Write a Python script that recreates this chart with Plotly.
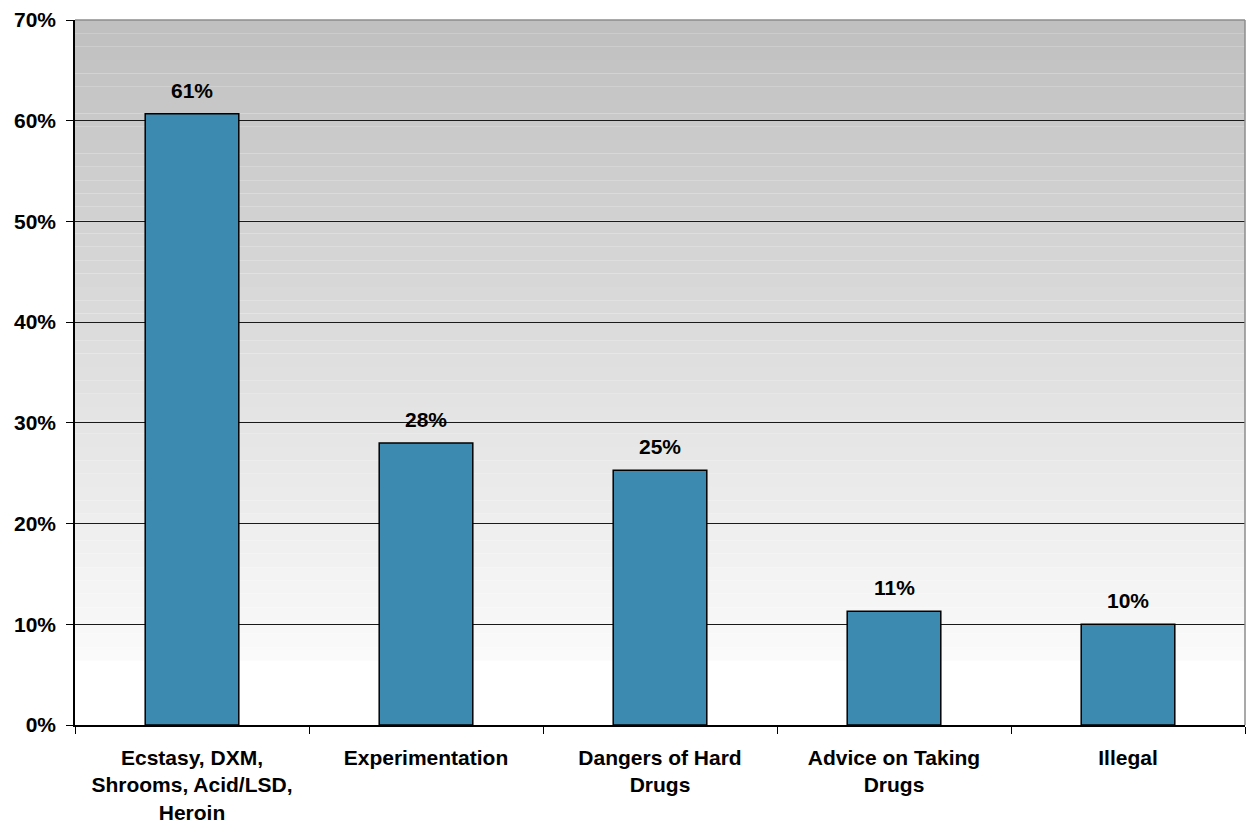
import plotly.graph_objects as go

categories = [
    "Ecstasy, DXM,<br>Shrooms, Acid/LSD,<br>Heroin",
    "Experimentation",
    "Dangers of Hard<br>Drugs",
    "Advice on Taking<br>Drugs",
    "Illegal",
]
values = [60.7, 28.0, 25.3, 11.3, 10.0]
y_ticks = [0, 10, 20, 30, 40, 50, 60, 70]
y_tick_labels = [f"{t}%" for t in y_ticks]

BAR_COLOR = "#3d8ab0"
FONT = "Liberation Sans, Arial, sans-serif"
FSIZE = 21

fig = go.Figure()
fig.add_trace(go.Bar(
    x=categories,
    y=values,
    width=0.4,
    marker=dict(color=BAR_COLOR, line=dict(color="#000000", width=1.5)),
    hoverinfo="x+y",
))

# value labels above each bar
annotations = [
    dict(x=c, y=v, xref="x", yref="y", text=f"<b>{v:.0f}%</b>",
         showarrow=False, yanchor="bottom", yshift=10,
         font=dict(family=FONT, size=FSIZE, color="#000000"))
    for c, v in zip(categories, values)
]

# Vertical gray-to-white gradient behind the bars, drawn as thin bands
y_top, y_fade = 70.0, 6.4
n_bands = 48
shapes = []
step = (y_top - y_fade) / n_bands
for i in range(n_bands):
    y1 = y_top - i * step
    y0 = y1 - step
    frac = i / (n_bands - 1)
    g = round(192 + (250 - 192) * frac)
    shapes.append(dict(
        type="rect", xref="paper", yref="y", x0=0, x1=1, y0=y0, y1=y1,
        fillcolor=f"rgb({g},{g},{g})", line=dict(width=0), layer="below",
    ))
# frame: gray on top and right
shapes.append(dict(type="line", xref="paper", yref="paper", x0=0, x1=1, y0=1, y1=1,
                   line=dict(color="#8c8c8c", width=1.5)))
shapes.append(dict(type="line", xref="paper", yref="paper", x0=1, x1=1, y0=0, y1=1,
                   line=dict(color="#8c8c8c", width=1.5)))

fig.update_layout(
    width=1248, height=828,
    margin=dict(l=75, r=3, t=20, b=103),
    paper_bgcolor="#ffffff",
    plot_bgcolor="#ffffff",
    showlegend=False,
    shapes=shapes,
    annotations=annotations,
    font=dict(family=FONT, size=FSIZE, color="#000000"),
)
fig.update_xaxes(
    showline=True, linecolor="#000000", linewidth=1.5,
    ticks="outside", ticklen=7, tickcolor="#000000", tickwidth=1,
    tickson="boundaries",
    ticklabelstandoff=13,
    tickfont=dict(family=FONT, size=FSIZE, color="#000000", weight="bold"),
    showgrid=False,
)
fig.update_yaxes(
    range=[0, 70],
    tickvals=y_ticks, ticktext=y_tick_labels,
    showline=True, linecolor="#000000", linewidth=1.5,
    ticks="outside", ticklen=7, tickcolor="#000000", tickwidth=1,
    ticklabelstandoff=6,
    showgrid=True, gridcolor="#1a1a1a", gridwidth=1,
    zeroline=False,
    tickfont=dict(family=FONT, size=FSIZE, color="#000000", weight="bold"),
)

fig.write_html("out.html")
